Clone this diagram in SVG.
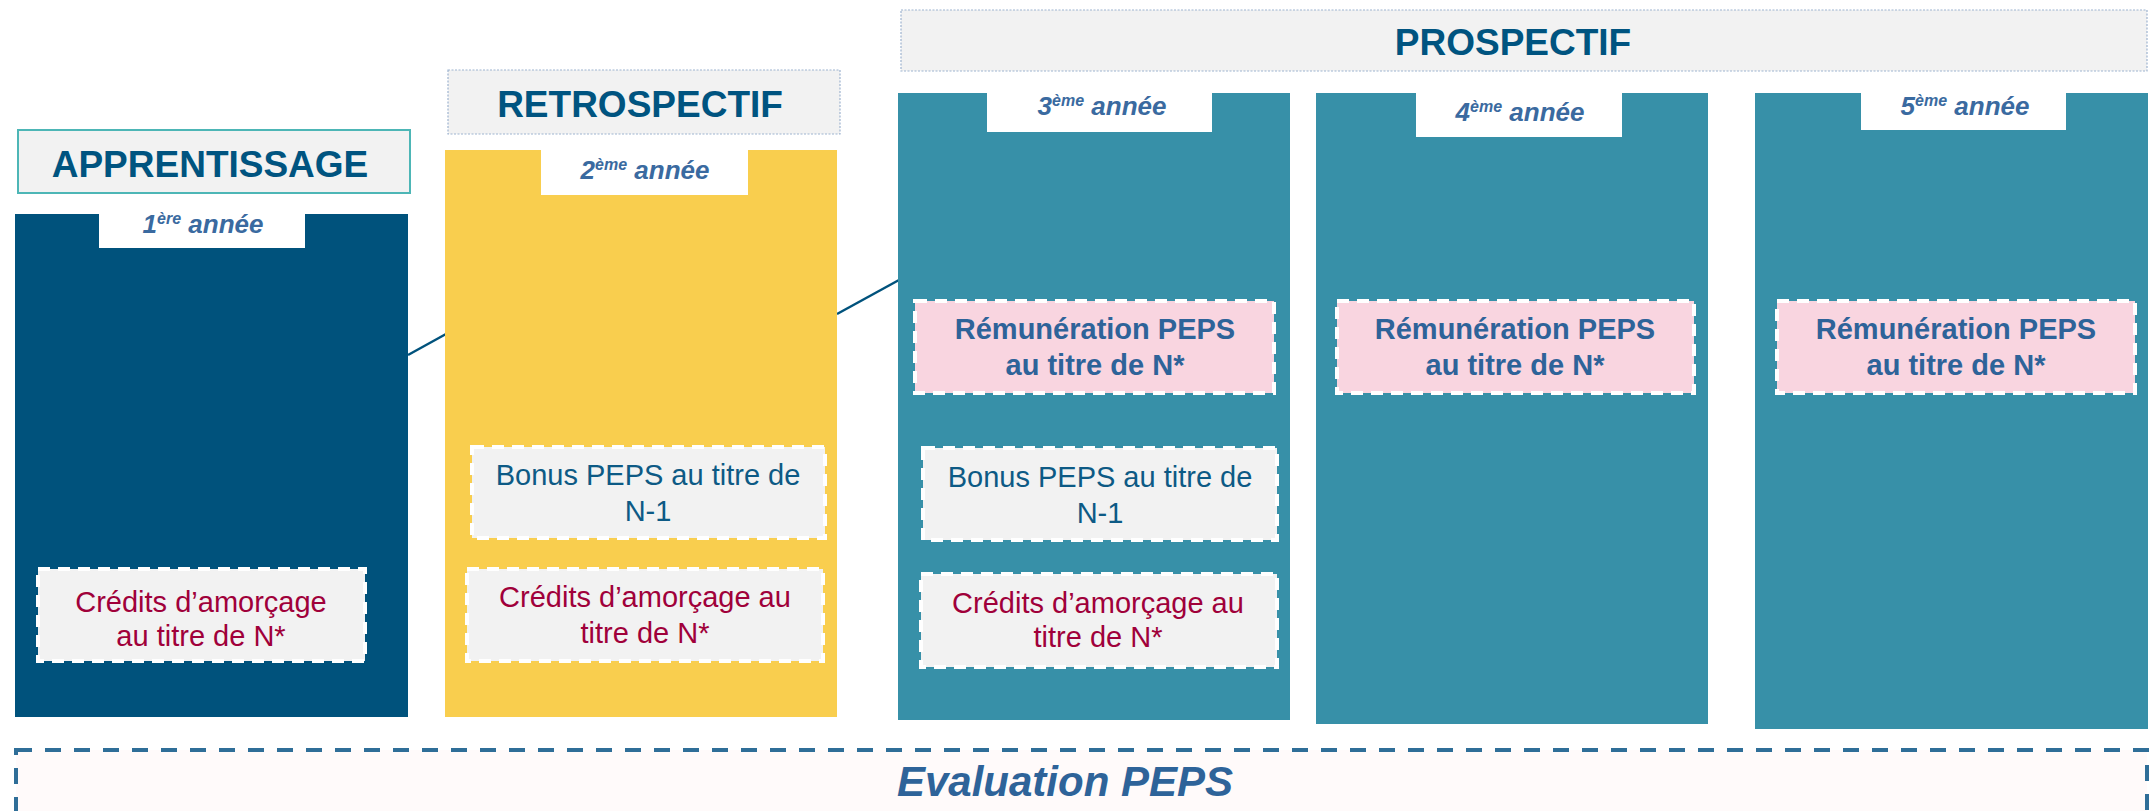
<svg xmlns="http://www.w3.org/2000/svg" width="2150" height="811" viewBox="0 0 2150 811">
<style>
  text { font-family: "Liberation Sans", Arial, sans-serif; }
  .hdr { fill: #F2F2F2; }
  .hdrtxt { font-size: 37px; font-weight: bold; fill: #005480; text-anchor: middle; }
  .tab { fill: #FFFFFF; }
  .year { font-size: 26px; font-weight: bold; font-style: italic; fill: #3A6AA0; text-anchor: middle; }
  .sup { font-size: 16px; }
  .inner { stroke: #FFFFFF; stroke-width: 4; stroke-dasharray: 12 8; }
  .grey { fill: #F2F2F2; }
  .pink { fill: #F9D5E0; }
  .cred { font-size: 29px; fill: #A0003A; text-anchor: middle; }
  .bonus { font-size: 29px; fill: #0D5A85; text-anchor: middle; }
  .rem { font-size: 29px; font-weight: bold; fill: #2E6399; text-anchor: middle; }
  .conn { stroke: #00527C; stroke-width: 2.5; fill: none; }
</style>

<g id="apprentissage-header">
  <rect class="hdr" x="18" y="130" width="392" height="63" stroke="#4DB6B6" stroke-width="2"/>
  <text class="hdrtxt" x="210" y="177">APPRENTISSAGE</text>
</g>

<g id="retrospectif-header">
  <rect class="hdr" x="448" y="70" width="392" height="64" stroke="#9DB3CF" stroke-width="1.2" stroke-dasharray="2 1.5"/>
  <text class="hdrtxt" x="640" y="117">RETROSPECTIF</text>
</g>

<g id="prospectif-header">
  <rect class="hdr" x="901" y="10" width="1246" height="61" stroke="#9DB3CF" stroke-width="1.2" stroke-dasharray="2 1.5"/>
  <text class="hdrtxt" x="1513" y="55">PROSPECTIF</text>
</g>

<g id="connectors">
  <line class="conn" x1="408" y1="355" x2="446" y2="334"/>
  <line class="conn" x1="837" y1="314" x2="899" y2="280"/>
</g>

<g id="annee1">
  <rect x="15" y="214" width="393" height="503" fill="#00527C"/>
  <rect class="tab" x="99" y="214" width="206" height="34"/>
  <text class="year" x="203" y="233">1<tspan class="sup" dy="-9">ère</tspan><tspan dy="9"> année</tspan></text>
  <g id="credits1">
    <rect class="inner grey" x="38" y="569" width="327" height="92"/>
    <text class="cred" x="201" y="612">Crédits d’amorçage</text>
    <text class="cred" x="201" y="646">au titre de N*</text>
  </g>
</g>

<g id="annee2">
  <rect x="445" y="150" width="392" height="567" fill="#F9CE4E"/>
  <rect class="tab" x="541" y="150" width="207" height="45"/>
  <text class="year" x="645" y="179">2<tspan class="sup" dy="-9">ème</tspan><tspan dy="9"> année</tspan></text>
  <g id="bonus2">
    <rect class="inner grey" x="472" y="447" width="353" height="91"/>
    <text class="bonus" x="648" y="485">Bonus PEPS au titre de</text>
    <text class="bonus" x="648" y="521">N-1</text>
  </g>
  <g id="credits2">
    <rect class="inner grey" x="467" y="569" width="356" height="92"/>
    <text class="cred" x="645" y="607">Crédits d’amorçage au</text>
    <text class="cred" x="645" y="643">titre de N*</text>
  </g>
</g>

<g id="annee3">
  <rect x="898" y="93" width="392" height="627" fill="#3790A8"/>
  <rect class="tab" x="987" y="93" width="225" height="39"/>
  <text class="year" x="1102" y="115">3<tspan class="sup" dy="-9">ème</tspan><tspan dy="9"> année</tspan></text>
  <g id="rem3">
    <rect class="inner pink" x="915" y="301" width="359" height="92"/>
    <text class="rem" x="1095" y="339">Rémunération PEPS</text>
    <text class="rem" x="1095" y="375">au titre de N*</text>
  </g>
  <g id="bonus3">
    <rect class="inner grey" x="923" y="448" width="354" height="92"/>
    <text class="bonus" x="1100" y="487">Bonus PEPS au titre de</text>
    <text class="bonus" x="1100" y="523">N-1</text>
  </g>
  <g id="credits3">
    <rect class="inner grey" x="921" y="574" width="356" height="93"/>
    <text class="cred" x="1098" y="613">Crédits d’amorçage au</text>
    <text class="cred" x="1098" y="647">titre de N*</text>
  </g>
</g>

<g id="annee4">
  <rect x="1316" y="93" width="392" height="631" fill="#3790A8"/>
  <rect class="tab" x="1416" y="93" width="206" height="44"/>
  <text class="year" x="1520" y="121">4<tspan class="sup" dy="-9">ème</tspan><tspan dy="9"> année</tspan></text>
  <g id="rem4">
    <rect class="inner pink" x="1337" y="301" width="357" height="92"/>
    <text class="rem" x="1515" y="339">Rémunération PEPS</text>
    <text class="rem" x="1515" y="375">au titre de N*</text>
  </g>
</g>

<g id="annee5">
  <rect x="1755" y="93" width="393" height="636" fill="#3790A8"/>
  <rect class="tab" x="1861" y="93" width="205" height="37"/>
  <text class="year" x="1965" y="115">5<tspan class="sup" dy="-9">ème</tspan><tspan dy="9"> année</tspan></text>
  <g id="rem5">
    <rect class="inner pink" x="1777" y="301" width="358" height="92"/>
    <text class="rem" x="1956" y="339">Rémunération PEPS</text>
    <text class="rem" x="1956" y="375">au titre de N*</text>
  </g>
</g>

<g id="evaluation">
  <rect x="16" y="750" width="2131" height="90" fill="#FFFAFA" stroke="#2F6E98" stroke-width="4" stroke-dasharray="16 13"/>
  <text x="1065" y="796" font-size="42" font-weight="bold" font-style="italic" fill="#2E6399" text-anchor="middle">Evaluation PEPS</text>
</g>
</svg>
